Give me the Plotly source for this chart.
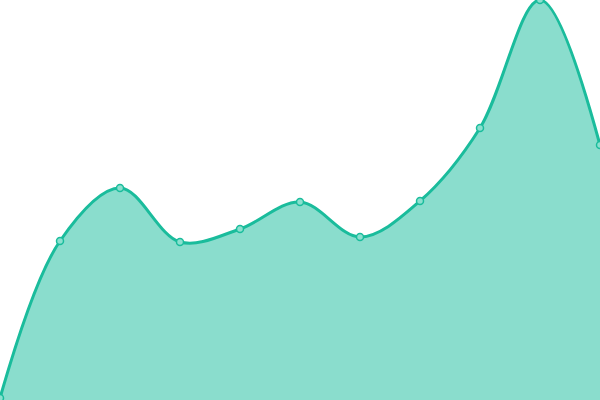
import plotly.graph_objects as go

x = [0, 1, 2, 3, 4, 5, 6, 7, 8, 9, 10]
values = [2, 159, 212, 158, 171, 198, 163, 199, 272, 400, 255]

fig = go.Figure()
fig.add_trace(go.Scatter(
    x=x, y=values,
    mode="lines+markers",
    line=dict(color="#1abc9c", width=3, shape="spline", smoothing=1),
    fill="tozeroy",
    fillcolor="rgba(26,188,156,0.51)",
    marker=dict(size=7, color="#8be0cf", line=dict(color="#1abc9c", width=1.5)),
    cliponaxis=True,
))

fig.update_layout(
    width=600, height=400,
    margin=dict(l=0, r=0, t=0, b=0),
    paper_bgcolor="white", plot_bgcolor="white",
    showlegend=False,
    xaxis=dict(visible=False, range=[0, 10]),
    yaxis=dict(visible=False, range=[0, 400]),
)

# body has an 8px default margin, drop it so the plot fills the window
fig.write_html("out.html", config={"displayModeBar": False},
               post_script="document.body.style.margin='0';document.body.style.overflow='hidden';")
